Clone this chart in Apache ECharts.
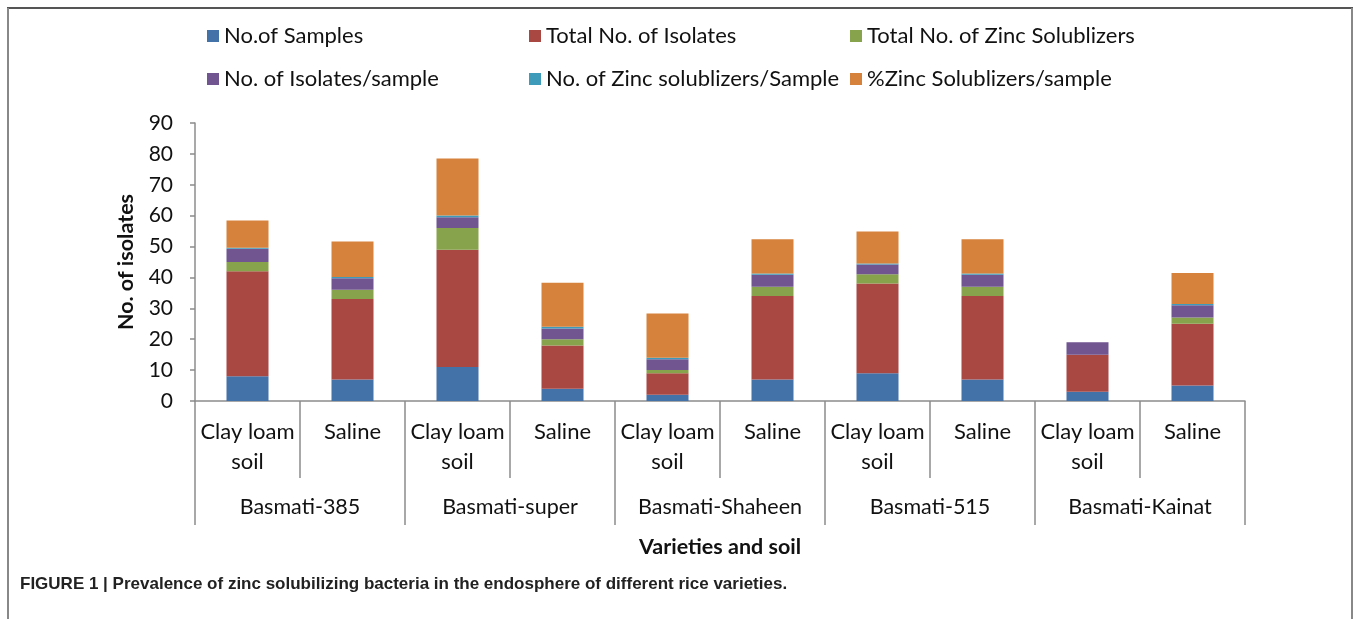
<!DOCTYPE html>
<html>
<head>
<meta charset="utf-8">
<script src="https://cdn.jsdelivr.net/npm/echarts@6/dist/echarts.min.js"></script>
<style>
  html, body { margin: 0; padding: 0; background: #fff; }
  #chart { width: 1358px; height: 619px; }
</style>
</head>
<body>
<div id="chart"></div>
<script>
// soil type under each variety (first axis level)
var soils = ['Clay loam\nsoil', 'Saline', 'Clay loam\nsoil', 'Saline', 'Clay loam\nsoil', 'Saline',
             'Clay loam\nsoil', 'Saline', 'Clay loam\nsoil', 'Saline'];
// rice varieties (second axis level)
var varieties = ['Basmati-385', 'Basmati-super', 'Basmati-Shaheen', 'Basmati-515', 'Basmati-Kainat'];

var seriesNames = ['No.of Samples', 'Total No. of Isolates', 'Total No. of Zinc Solublizers',
                   'No. of Isolates/sample', 'No. of Zinc solublizers/Sample', '%Zinc Solublizers/sample'];
var seriesColors = ['#4372A8', '#A94742', '#87A34B', '#705591', '#3E9CBA', '#D7823C'];

// values
var samples        = [8, 7, 11, 4, 2, 7, 9, 7, 3, 5];
var isolates       = [34, 26, 38, 14, 7, 27, 29, 27, 12, 20];
var zincSol        = [3, 3, 7, 2, 1, 3, 3, 3, 0, 2];
var isolatesPerSmp = [4.25, 3.71, 3.45, 3.5, 3.5, 3.86, 3.22, 3.86, 4, 4];
var zincPerSmp     = [0.38, 0.43, 0.64, 0.5, 0.5, 0.43, 0.33, 0.43, 0, 0.4];
var zincPct        = [8.8, 11.5, 18.4, 14.3, 14.3, 11.1, 10.3, 11.1, 0, 10];

var yTicks = { min: 0, max: 90, interval: 10 };

var seriesData = [samples, isolates, zincSol, isolatesPerSmp, zincPerSmp, zincPct];

var FONT = 'Lato';
var axisGray = '#8c8c8c';

var chartDom = document.getElementById('chart');
var myChart = echarts.init(chartDom);

var series = [];
for (var i = 0; i < seriesNames.length; i++) {
  series.push({
    name: seriesNames[i],
    type: 'bar',
    stack: 'total',
    barWidth: '40%',
    xAxisIndex: 0,
    itemStyle: { color: seriesColors[i] },
    data: seriesData[i]
  });
}

//legend: three columns of two entries
function legendCol(left, names) {
  return {
    orient: 'vertical',
    left: left,
    top: 20,
    itemWidth: 12,
    itemHeight: 12,
    itemGap: 21,
    icon: 'rect',
    textStyle: { fontFamily: FONT, fontSize: 22, color: '#111', lineHeight: 22 },
    data: names
  };
}

var option = {
  animation: false,
  color: seriesColors,
  textStyle: { fontFamily: FONT },
  legend: [
    legendCol(202, [seriesNames[0], seriesNames[3]]),
    legendCol(524, [seriesNames[1], seriesNames[4]]),
    legendCol(845, [seriesNames[2], seriesNames[5]])
  ],
  grid: { left: 195, right: 113, top: 123, bottom: 218, containLabel: false },
  xAxis: [
    {
      type: 'category',
      data: soils,
      axisLine: { lineStyle: { color: axisGray, width: 1.5 } },
      axisTick: { show: true, length: 77, lineStyle: { color: axisGray, width: 1.5 } },
      axisLabel: { interval: 0, fontFamily: FONT, fontSize: 22, lineHeight: 30, margin: 16, color: '#111' }
    },
    {
      type: 'category',
      data: varieties,
      position: 'bottom',
      offset: 77,
      axisLine: { show: false },
      axisTick: { show: true, length: 47, lineStyle: { color: axisGray, width: 1.5 } },
      axisLabel: { interval: 0, fontFamily: FONT, fontSize: 21.5, margin: 18, color: '#111' },
      name: 'Varieties and soil',
      nameLocation: 'middle',
      nameGap: 58,
      nameTextStyle: { fontFamily: FONT, fontSize: 21.5, fontWeight: 'bold', color: '#111' }
    }
  ],
  yAxis: {
    type: 'value',
    min: yTicks.min,
    max: yTicks.max,
    interval: yTicks.interval,
    name: 'No. of isolates',
    nameLocation: 'middle',
    nameGap: 58,
    nameTextStyle: { fontFamily: FONT, fontSize: 21.5, fontWeight: 'bold', color: '#111' },
    axisLine: { show: true, lineStyle: { color: axisGray, width: 1.5 } },
    axisTick: { show: true, length: 5, lineStyle: { color: axisGray, width: 1.5 } },
    axisLabel: { fontFamily: FONT, fontSize: 21, margin: 22, color: '#111' },
    splitLine: { show: false }
  },
  graphic: [
    { type: 'line', shape: { x1: 7, y1: 8, x2: 1353, y2: 8 }, style: { stroke: '#555', lineWidth: 2 } },
    { type: 'line', shape: { x1: 8, y1: 8, x2: 8, y2: 619 }, style: { stroke: '#888', lineWidth: 2 } },
    { type: 'line', shape: { x1: 1352, y1: 8, x2: 1352, y2: 619 }, style: { stroke: '#888', lineWidth: 2 } },
    {
      type: 'text', left: 20, top: 576,
      style: {
        text: 'FIGURE 1 | Prevalence of zinc solubilizing bacteria in the endosphere of different rice varieties.',
        font: 'bold 17px "Liberation Sans"',
        fill: '#222'
      }
    }
  ],
  series: series
};

option && myChart.setOption(option);
</script>
</body>
</html>
